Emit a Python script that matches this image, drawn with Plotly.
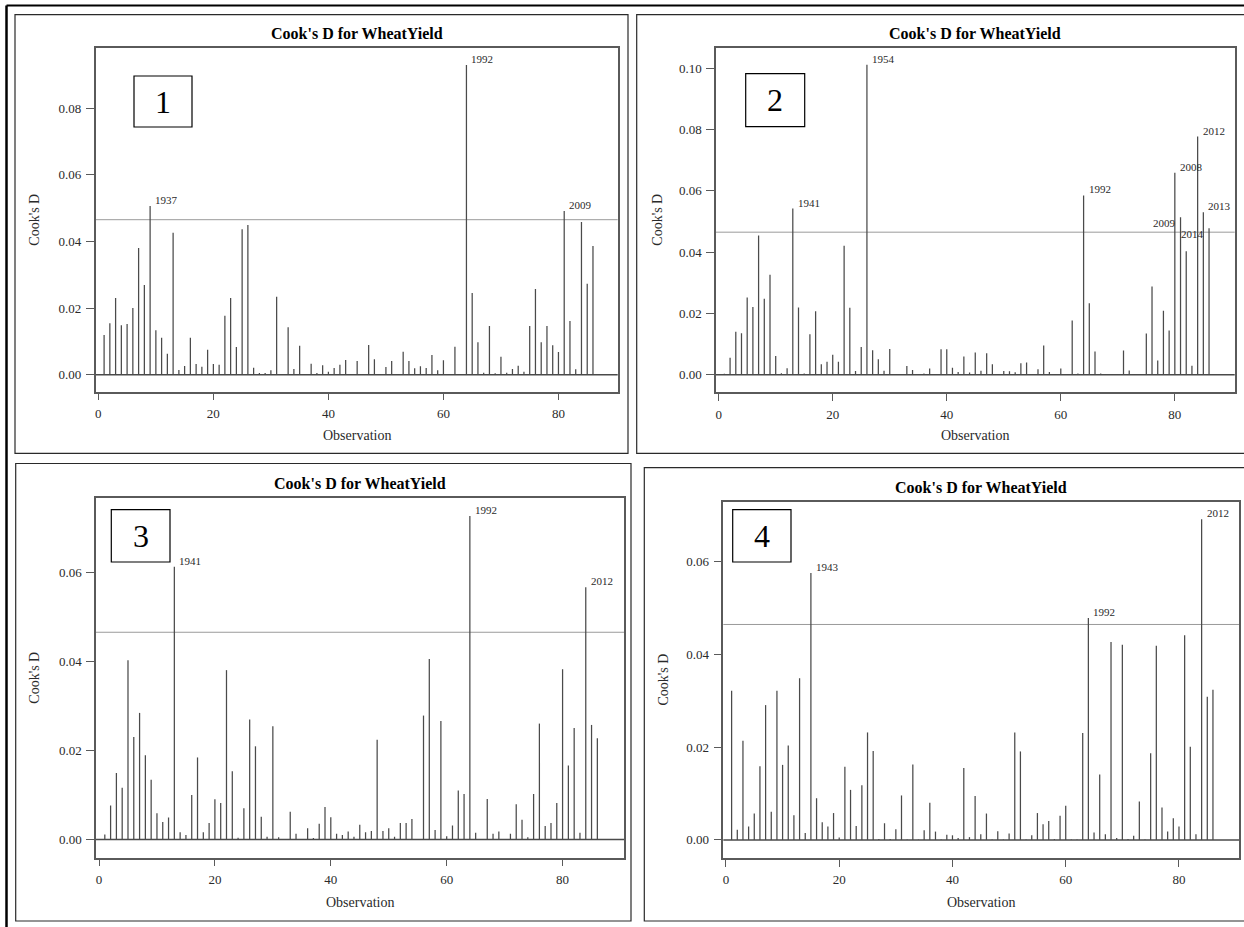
import plotly.graph_objects as go

W, H = 1244, 927

# ---------------- data ----------------
OBS = list(range(1, 87))
THRESHOLD = 0.0465  # 4/n reference line

COOKS_D_1 = [
    0.0119, 0.0154, 0.0230, 0.0148, 0.0152, 0.0200, 0.0380, 0.0269, 0.0506, 0.0133,
    0.0111, 0.0063, 0.0426, 0.0014, 0.0026, 0.0111, 0.0032, 0.0024, 0.0075, 0.0032,
    0.0030, 0.0177, 0.0230, 0.0083, 0.0436, 0.0449, 0.0021, 0.0005, 0.0005, 0.0013,
    0.0234, 0.0002, 0.0142, 0.0017, 0.0087, 0.0001, 0.0033, 0.0005, 0.0028, 0.0009,
    0.0020, 0.0030, 0.0044, 0.0002, 0.0041, 0.0001, 0.0089, 0.0046, 0.0001, 0.0023,
    0.0041, 0.0002, 0.0069, 0.0041, 0.0019, 0.0025, 0.0020, 0.0059, 0.0013, 0.0043,
    0.0002, 0.0084, 0.0001, 0.0929, 0.0245, 0.0097, 0.0006, 0.0146, 0.0004, 0.0054,
    0.0006, 0.0017, 0.0027, 0.0009, 0.0146, 0.0257, 0.0097, 0.0146, 0.0088, 0.0068,
    0.0491, 0.0161, 0.0016, 0.0458, 0.0273, 0.0386,
]
COOKS_D_2 = [
    0.0003, 0.0055, 0.0140, 0.0135, 0.0252, 0.0221, 0.0454, 0.0248, 0.0326, 0.0061,
    0.0005, 0.0021, 0.0542, 0.0219, 0.0004, 0.0132, 0.0207, 0.0034, 0.0042, 0.0065,
    0.0042, 0.0421, 0.0218, 0.0012, 0.0090, 0.1011, 0.0080, 0.0050, 0.0013, 0.0084,
    0.0001, 0.0001, 0.0028, 0.0015, 0.0001, 0.0004, 0.0020, 0.0001, 0.0083, 0.0083,
    0.0023, 0.0009, 0.0059, 0.0007, 0.0072, 0.0013, 0.0070, 0.0034, 0.0001, 0.0012,
    0.0011, 0.0008, 0.0037, 0.0040, 0.0001, 0.0018, 0.0095, 0.0009, 0.0001, 0.0020,
    0.0001, 0.0177, 0.0004, 0.0585, 0.0233, 0.0076, 0.0004, 0.0001, 0.0001, 0.0001,
    0.0079, 0.0014, 0.0001, 0.0002, 0.0134, 0.0288, 0.0046, 0.0209, 0.0144, 0.0659,
    0.0514, 0.0403, 0.0029, 0.0777, 0.0530, 0.0478,
]
COOKS_D_3 = [
    0.0011, 0.0076, 0.0149, 0.0116, 0.0402, 0.0230, 0.0284, 0.0189, 0.0134, 0.0059,
    0.0039, 0.0049, 0.0612, 0.0016, 0.0010, 0.0100, 0.0184, 0.0016, 0.0037, 0.0090,
    0.0082, 0.0380, 0.0153, 0.0004, 0.0070, 0.0269, 0.0209, 0.0051, 0.0006, 0.0254,
    0.0005, 0.0001, 0.0062, 0.0013, 0.0001, 0.0025, 0.0003, 0.0035, 0.0073, 0.0050,
    0.0013, 0.0010, 0.0018, 0.0006, 0.0033, 0.0016, 0.0019, 0.0224, 0.0019, 0.0025,
    0.0006, 0.0037, 0.0037, 0.0046, 0.0001, 0.0278, 0.0405, 0.0021, 0.0266, 0.0007,
    0.0031, 0.0110, 0.0102, 0.0726, 0.0015, 0.0001, 0.0091, 0.0013, 0.0018, 0.0001,
    0.0013, 0.0079, 0.0044, 0.0005, 0.0102, 0.0260, 0.0030, 0.0037, 0.0082, 0.0382,
    0.0166, 0.0250, 0.0015, 0.0566, 0.0257, 0.0227,
]
COOKS_D_4 = [
    0.0322, 0.0022, 0.0214, 0.0029, 0.0057, 0.0159, 0.0291, 0.0061, 0.0322, 0.0162,
    0.0204, 0.0053, 0.0349, 0.0015, 0.0576, 0.0090, 0.0038, 0.0029, 0.0058, 0.0005,
    0.0158, 0.0108, 0.0030, 0.0118, 0.0232, 0.0192, 0.0002, 0.0036, 0.0002, 0.0023,
    0.0096, 0.0001, 0.0163, 0.0001, 0.0021, 0.0080, 0.0018, 0.0001, 0.0011, 0.0010,
    0.0004, 0.0155, 0.0006, 0.0095, 0.0012, 0.0057, 0.0001, 0.0019, 0.0001, 0.0014,
    0.0232, 0.0191, 0.0001, 0.0010, 0.0058, 0.0034, 0.0041, 0.0002, 0.0052, 0.0074,
    0.0001, 0.0001, 0.0231, 0.0479, 0.0016, 0.0141, 0.0012, 0.0427, 0.0004, 0.0421,
    0.0002, 0.0009, 0.0083, 0.0001, 0.0187, 0.0419, 0.0070, 0.0018, 0.0047, 0.0029,
    0.0442, 0.0201, 0.0012, 0.0692, 0.0309, 0.0324,
]

LABEL_OBS_1 = [9, 64, 81]
LABEL_TXT_1 = ["1937", "1992", "2009"]
LABEL_OBS_2 = [13, 26, 64, 80, 81, 84, 85, 86]
LABEL_TXT_2 = ["1941", "1954", "1992", "2008", "2009", "2012", "2013", "2014"]
LABEL_OBS_3 = [13, 64, 84]
LABEL_TXT_3 = ["1941", "1992", "2012"]
LABEL_OBS_4 = [15, 64, 84]
LABEL_TXT_4 = ["1943", "1992", "2012"]

TITLE = "Cook's D for WheatYield"
X_TITLE = "Observation"
Y_TITLE = "Cook's D"
PANEL_NUMBERS = ["1", "2", "3", "4"]

# ---------------- layout geometry (pixels) ----------------
FONT = "Liberation Serif, Times New Roman, serif"

panels = [
    dict(data=COOKS_D_1, lobs=LABEL_OBS_1, ltxt=LABEL_TXT_1, left_labels=[],
         frame=(95.7, 47.7, 617.7, 391.7), xr=[-0.46, 90.3], yr=[-0.0051, 0.0981],
         box=(15, 14.7, 628, 453.3), numbox=(134, 76, 192, 127),
         title_xy=(356.7, 33), ytitle_x=35, xtitle_y=435.7),
    dict(data=COOKS_D_2, lobs=LABEL_OBS_2, ltxt=LABEL_TXT_2, left_labels=[81, 86],
         frame=(716, 47.7, 1234.7, 392.3), xr=[-0.47, 90.5], yr=[-0.00575, 0.1067],
         box=(636.7, 14.7, 1260, 453.3), numbox=(745.7, 73.7, 804.7, 126.7),
         title_xy=(975.4, 33), ytitle_x=656.7, xtitle_y=435.7),
    dict(data=COOKS_D_3, lobs=LABEL_OBS_3, ltxt=LABEL_TXT_3, left_labels=[],
         frame=(96, 497.7, 624, 857.7), xr=[-0.52, 90.6], yr=[-0.0041, 0.0767],
         box=(15.7, 463.5, 631, 921), numbox=(111.3, 509.7, 170, 562),
         title_xy=(359.5, 483.7), ytitle_x=35, xtitle_y=902.7),
    dict(data=COOKS_D_4, lobs=LABEL_OBS_4, ltxt=LABEL_TXT_4, left_labels=[],
         frame=(723.3, 501.7, 1239, 858), xr=[-0.47, 90.6], yr=[-0.0039, 0.073],
         box=(644.3, 467.7, 1260, 921), numbox=(732.7, 509.7, 791, 562),
         title_xy=(981, 487), ytitle_x=663.7, xtitle_y=902.7),
]


def px(x):
    return x / W


def py(y):
    return 1 - y / H


fig = go.Figure()
shapes = []
annotations = []

for k, p in enumerate(panels, start=1):
    xa = "x" if k == 1 else f"x{k}"
    ya = "y" if k == 1 else f"y{k}"
    x0, y0, x1, y1 = p["frame"]

    # needles built from the data
    xs, ys = [], []
    for o, v in zip(OBS, p["data"]):
        xs += [o, o, None]
        ys += [0, v, None]
    fig.add_trace(go.Scatter(x=xs, y=ys, mode="lines", xaxis=xa, yaxis=ya,
                             line=dict(color="#4a4a4a", width=1.25),
                             hoverinfo="skip", showlegend=False))

    axis_common = dict(showline=True, mirror=True, linecolor="#5a5a5a", linewidth=1.5,
                       showgrid=False, zeroline=False, ticks="outside",
                       tickcolor="#5a5a5a", tickwidth=1.2,
                       tickfont=dict(family=FONT, size=13, color="#2a2a2a"))
    fig.update_layout(**{
        ("xaxis" if k == 1 else f"xaxis{k}"): dict(
            axis_common, domain=[px(x0), px(x1)], range=p["xr"], tick0=0, dtick=20,
            ticklen=7, anchor=ya, ticklabelstandoff=2),
        ("yaxis" if k == 1 else f"yaxis{k}"): dict(
            axis_common, domain=[py(y1), py(y0)], range=p["yr"], tick0=0, dtick=0.02,
            tickformat=".2f", ticklen=8, anchor=xa, ticklabelstandoff=2),
    })

    # zero baseline & reference line
    shapes.append(dict(type="line", xref=f"{xa} domain", yref=ya, x0=0, x1=1, y0=0, y1=0,
                       line=dict(color="#4a4a4a", width=1.5), layer="below"))
    shapes.append(dict(type="line", xref=f"{xa} domain", yref=ya, x0=0, x1=1,
                       y0=THRESHOLD, y1=THRESHOLD,
                       line=dict(color="#9a9a9a", width=1), layer="below"))

    # outer panel box
    bx0, by0, bx1, by1 = p["box"]
    shapes.append(dict(type="rect", xref="paper", yref="paper",
                       x0=px(bx0), x1=px(bx1), y0=py(by1), y1=py(by0),
                       line=dict(color="#2a2a2a", width=1.2)))

    # numbered box
    nx0, ny0, nx1, ny1 = p["numbox"]
    shapes.append(dict(type="rect", xref="paper", yref="paper",
                       x0=px(nx0), x1=px(nx1), y0=py(ny1), y1=py(ny0),
                       line=dict(color="black", width=1.2), fillcolor="white"))
    annotations.append(dict(xref="paper", yref="paper", x=px((nx0 + nx1) / 2),
                            y=py((ny0 + ny1) / 2), text=PANEL_NUMBERS[k - 1],
                            showarrow=False, xanchor="center", yanchor="middle",
                            font=dict(family=FONT, size=32, color="black")))

    # title & axis titles
    tx, ty = p["title_xy"]
    annotations.append(dict(xref="paper", yref="paper", x=px(tx), y=py(ty),
                            text=f"<b>{TITLE}</b>", showarrow=False,
                            xanchor="center", yanchor="middle",
                            font=dict(family=FONT, size=16, color="black")))
    annotations.append(dict(xref="paper", yref="paper", x=px((x0 + x1) / 2),
                            y=py(p["xtitle_y"]), text=X_TITLE, showarrow=False,
                            xanchor="center", yanchor="middle",
                            font=dict(family=FONT, size=14, color="#2a2a2a")))
    annotations.append(dict(xref="paper", yref="paper", x=px(p["ytitle_x"]),
                            y=py((y0 + y1) / 2), text=Y_TITLE, showarrow=False,
                            textangle=-90, xanchor="center", yanchor="middle",
                            font=dict(family=FONT, size=14, color="#2a2a2a")))

    # year labels for influential observations
    for o, t in zip(p["lobs"], p["ltxt"]):
        v = p["data"][OBS.index(o)]
        if o in p["left_labels"]:
            annotations.append(dict(xref=xa, yref=ya, x=o, y=v, text=t, showarrow=False,
                                    xanchor="right", yanchor="middle", xshift=-3, yshift=-6,
                                    font=dict(family=FONT, size=11, color="#2a2a2a")))
        else:
            annotations.append(dict(xref=xa, yref=ya, x=o, y=v, text=t, showarrow=False,
                                    xanchor="left", yanchor="middle", xshift=3, yshift=6,
                                    font=dict(family=FONT, size=11, color="#2a2a2a")))

# outer frame of the whole picture
shapes.append(dict(type="line", xref="paper", yref="paper", x0=px(6.5), x1=px(1250),
                   y0=py(5.5), y1=py(5.5), line=dict(color="black", width=2)))
shapes.append(dict(type="line", xref="paper", yref="paper", x0=px(6.5), x1=px(6.5),
                   y0=py(5.5), y1=py(935), line=dict(color="black", width=2.5)))

fig.update_layout(width=W, height=H, autosize=False,
                  margin=dict(l=0, r=0, t=0, b=0, pad=0),
                  paper_bgcolor="white", plot_bgcolor="white",
                  shapes=shapes, annotations=annotations, showlegend=False)

fig.write_html(
    "out.html",
    config={"displayModeBar": False},
    post_script="document.body.style.margin='0';document.body.style.overflow='hidden';",
)
